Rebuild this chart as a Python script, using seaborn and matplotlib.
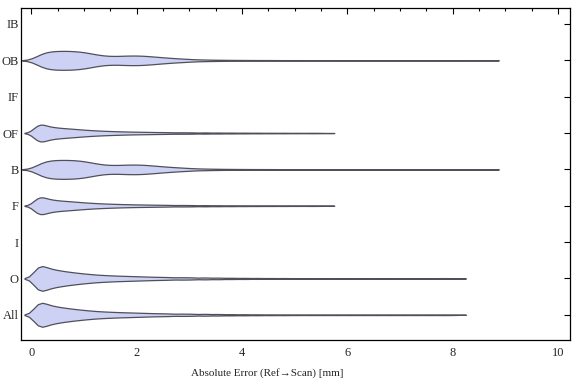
import matplotlib
matplotlib.use("Agg")
import matplotlib.pyplot as plt
import seaborn as sns
import numpy as np
import pandas as pd

# categories, top to bottom
cats = ['IB', 'OB', 'IF', 'OF', 'B', 'F', 'I', 'O', 'All']

# binned absolute errors [mm] and estimated counts
ob_vals = [0.2, 0.4, 0.6, 0.8, 1.0, 1.2, 1.4, 1.6, 1.8, 2.0, 2.2, 2.4, 2.6, 2.8, 3.0,
           3.25, 3.5, 3.75, 4.0, 4.25, 4.5, 4.75, 5.0, 5.25, 5.5, 5.75, 6.0, 6.25,
           6.5, 6.75, 7.0, 7.25, 7.5, 7.75, 8.0, 8.25, 8.5]
ob_counts = [85, 98, 100, 98, 88, 64, 46, 44, 50, 52, 46, 36, 27, 20, 15,
             11, 8, 6, 5, 4, 4, 3, 3, 3, 2, 2, 2, 2,
             2, 2, 2, 2, 2, 2, 2, 2, 2]

of_vals = [0.12, 0.25, 0.4, 0.55, 0.7, 0.85, 1.0, 1.15, 1.3, 1.45, 1.6, 1.75, 1.9,
           2.05, 2.2, 2.35, 2.5, 2.65, 2.85, 3.05, 3.3, 3.55, 3.8, 4.05, 4.3,
           4.55, 4.8, 5.05, 5.3, 5.5]
of_counts = [110, 90, 72, 62, 55, 48, 40, 34, 29, 25, 22, 19, 17,
             15, 14, 12, 11, 10, 12, 11, 11, 9, 8, 7, 6,
             5, 5, 4, 4, 3]

b_vals = ob_vals
b_counts = [85, 98, 100, 98, 88, 64, 46, 44, 50, 52, 46, 36, 27, 20, 15,
            11, 8, 6, 5, 4, 4, 3, 3, 3, 2, 2, 2, 2,
            2, 2, 2, 2, 2, 2, 2, 2, 2]

f_vals = of_vals
f_counts = [110, 90, 72, 62, 55, 48, 40, 34, 29, 25, 22, 19, 17,
            15, 14, 12, 11, 10, 12, 11, 11, 9, 8, 7, 6,
            5, 5, 4, 4, 3]

o_vals = [0.12, 0.25, 0.4, 0.55, 0.7, 0.85, 1.0, 1.15, 1.3, 1.45, 1.6, 1.75, 1.9,
          2.05, 2.2, 2.35, 2.5, 2.65, 2.85, 3.05, 3.3, 3.55, 3.8, 4.05, 4.3,
          4.55, 4.8, 5.05, 5.3, 5.55, 5.8, 6.05, 6.3, 6.55, 6.8, 7.05, 7.3,
          7.55, 7.8, 8.0]
o_counts = [105, 92, 76, 64, 55, 47, 40, 34, 29, 26, 23, 21, 19,
            17, 15, 13, 12, 11, 13, 12, 12, 10, 8, 7, 6,
            5, 5, 4, 4, 4, 4, 4, 4, 4, 4, 4, 4,
            4, 4, 3]

all_vals = o_vals
all_counts = [105, 92, 76, 64, 55, 47, 40, 34, 29, 26, 23, 21, 19,
              17, 15, 13, 12, 11, 13, 12, 12, 10, 8, 7, 6,
              5, 5, 4, 4, 4, 4, 4, 4, 4, 4, 4, 4,
              4, 4, 3]

series = {
    'OB': (ob_vals, ob_counts),
    'OF': (of_vals, of_counts),
    'B': (b_vals, b_counts),
    'F': (f_vals, f_counts),
    'O': (o_vals, o_counts),
    'All': (all_vals, all_counts),
}
widths = {'OB': 0.52, 'OF': 0.46, 'B': 0.52, 'F': 0.46, 'O': 0.68, 'All': 0.66}
bws = {'OB': 0.15, 'OF': 0.1, 'B': 0.15, 'F': 0.1, 'O': 0.1, 'All': 0.1}  # mm

sns.set_style("white")
plt.rcParams['font.family'] = ['Liberation Serif', 'DejaVu Serif']

fig, ax = plt.subplots(figsize=(5.76, 3.81), dpi=100)
fig.subplots_adjust(left=0.037, right=0.99, bottom=0.108, top=0.979)

for name, (vals, counts) in series.items():
    err = np.repeat(vals, counts)
    df = pd.DataFrame({'err': err, 'cat': name})
    sns.violinplot(data=df, x='err', y='cat', order=cats, orient='h',
                   width=widths[name], density_norm='width', inner=None,
                   bw_method=bws[name] / err.std(ddof=1), cut=2.5,
                   color='#cdd1f4', linecolor='#50505a', linewidth=0.9,
                   saturation=1, ax=ax)

ax.set_xlim(-0.19, 10.23)
ax.set_ylim(8.69, -0.44)
ax.set_xticks([0, 2, 4, 6, 8, 10])
ax.set_xticks(np.arange(0, 10.01, 0.5), minor=True)
ax.set_yticks(range(len(cats)))
ax.set_yticklabels(cats)
ax.tick_params(axis='both', which='both', direction='in', top=True, right=True,
               labelsize=9, color='black', width=0.8)
ax.tick_params(axis='x', which='major', length=4, pad=5)
ax.tick_params(axis='x', which='minor', length=2)
ax.tick_params(axis='y', which='major', length=4, pad=2)
for s in ax.spines.values():
    s.set_color('black')
    s.set_linewidth(0.9)
ax.set_ylabel('')
ax.set_xlabel('Absolute Error (Ref\u2192Scan) [mm]', fontsize=8)
ax.xaxis.set_label_coords(0.448, -0.085)

plt.savefig('out.png', dpi=100)
